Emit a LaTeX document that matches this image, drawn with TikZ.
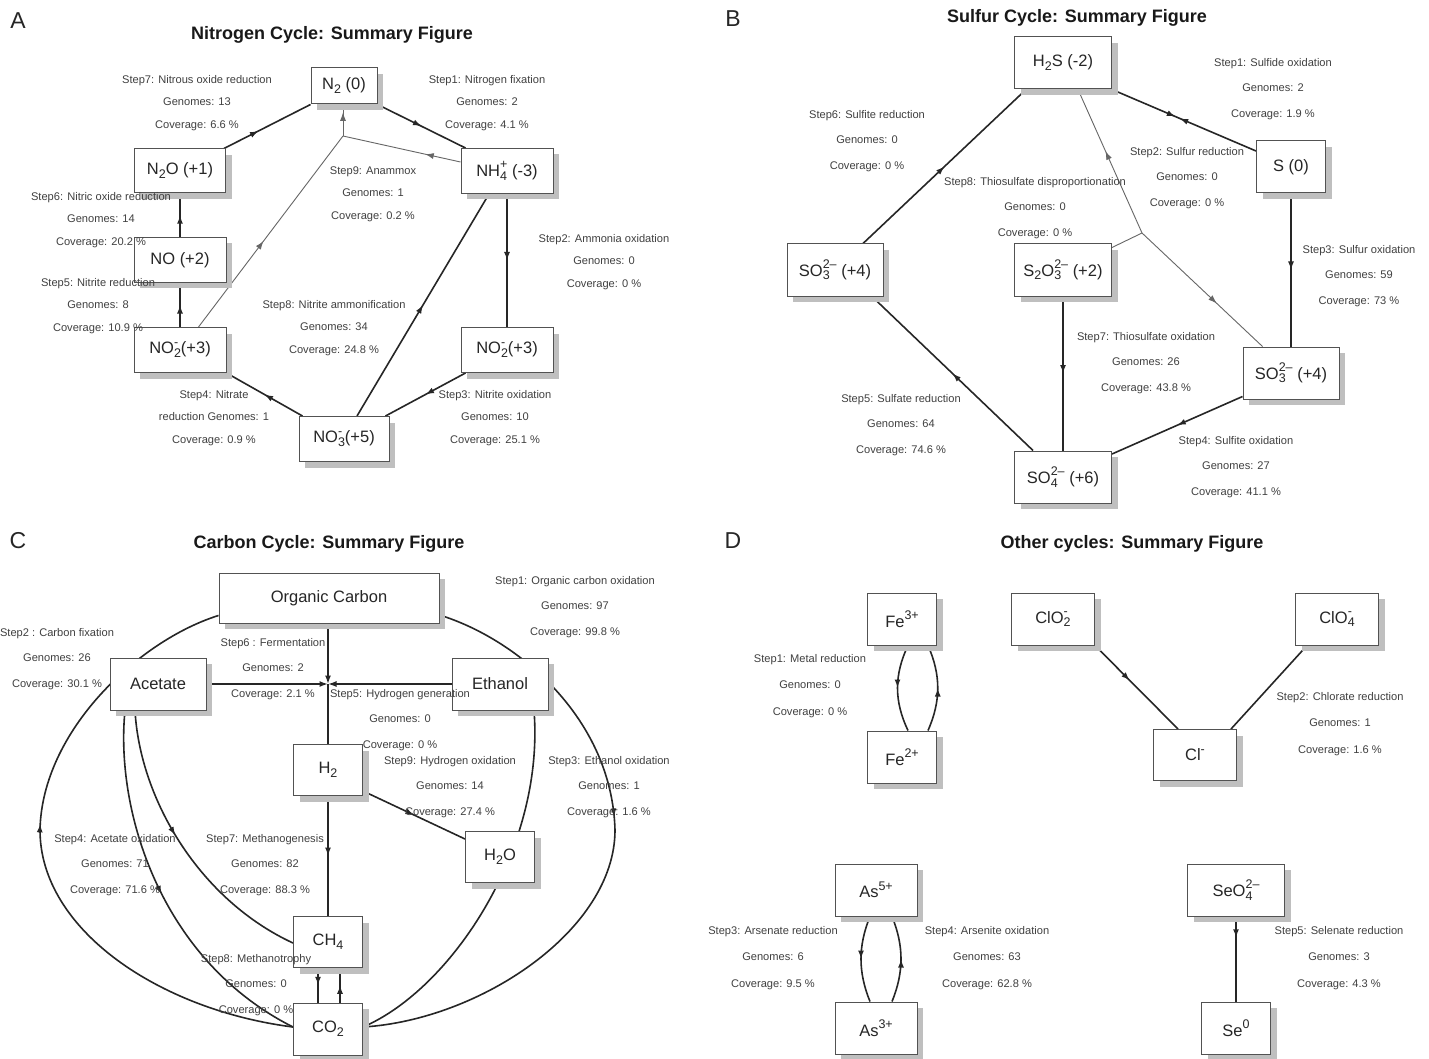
\documentclass[tikz,border=0pt]{standalone}
\usepackage{fontspec}
\setmainfont{Liberation Sans}
\usetikzlibrary{arrows.meta,decorations.markings,shadows,calc}
\pgfdeclarelayer{bg}
\pgfsetlayers{bg,main}
\newcommand\sbx[1]{\raisebox{-0.24em}{\fontsize{12.5}{13}\selectfont #1}}
\newcommand\spx[1]{\raisebox{0.45em}{\fontsize{12.5}{13}\selectfont #1}}
\newcommand\chemion[2]{\mbox{\setbox0=\hbox{\sbx{#1}}\setbox2=\hbox{\spx{#2}}\ifdim\wd0>\wd2 \rlap{\box2}\box0\else\rlap{\box0}\box2\fi}}
\tikzset{
  box/.style={draw=black!68, line width=1pt, fill=white, inner sep=0pt,
    font=\fontsize{16.5}{18}\selectfont, text=black!85,
    drop shadow={shadow xshift=6pt, shadow yshift=-6pt, fill=black!25, opacity=1}},
  lbl/.style={align=center, inner sep=0pt, text=black!75, font=\fontsize{11.1}{25.7}\selectfont},
  lblA/.style={lbl, font=\fontsize{11.1}{22.5}\selectfont},
  lblD/.style={lbl, font=\fontsize{11.1}{26.7}\selectfont},
  ttl/.style={font=\fontsize{18}{20}\selectfont\bfseries, text=black!90},
  letter/.style={font=\fontsize{23}{25}\selectfont, text=black!85},
  ln/.style={line width=1.6pt, draw=black!85},
  thinln/.style={line width=0.9pt, draw=black!60},
  mytip/.tip={Latex[length=8.5pt,width=6pt]},
  marr/.style={postaction={decorate, decoration={markings, mark=at position #1 with {\arrow{mytip}}}}},
  marr/.default=0.5,
  rarr/.style={postaction={decorate, decoration={markings, mark=at position #1 with {\arrowreversed{mytip}}}}},
  rarr/.default=0.5,
}
\begin{document}
\begin{tikzpicture}[x=1pt,y=-1pt]
\useasboundingbox (0,0) rectangle (1429,1059);
\begin{pgfonlayer}{bg}
\fill[white] (0,0) rectangle (1429,1059);
\end{pgfonlayer}

% ================= Panel A =================
\node[letter] (letA) at (18,21) {A};
\node[ttl] (ttlA) at (332,35) {Nitrogen Cycle: Summary Figure};
\node[box, minimum width=66pt, minimum height=36pt] (n2) at (344,86) {N\sbx{2} (0)};
\node[box, minimum width=92pt, minimum height=45pt] (nh4) at (507,171) {NH\chemion{4}{+} (-3)};
\node[box, minimum width=91pt, minimum height=44pt] (n2o) at (180,171) {N\sbx{2}O (+1)};
\node[box, minimum width=92pt, minimum height=45pt] (no) at (180,260) {NO (+2)};
\node[box, minimum width=92pt, minimum height=45pt] (no2a) at (180,350) {NO\chemion{2}{-}(+3)};
\node[box, minimum width=92pt, minimum height=45pt] (no2b) at (507,350) {NO\chemion{2}{-}(+3)};
\node[box, minimum width=90pt, minimum height=45pt] (no3) at (344,439) {NO\chemion{3}{-}(+5)};
\coordinate (j1) at (343,136);
\begin{pgfonlayer}{bg}
\draw[ln, marr=0.4] ($(n2o.north east)+(-2,0)$) -- (n2.south west);
\draw[ln, marr] (n2.south east) -- ($(nh4.north west)+(5,0)$);
\draw[ln, marr] (no.north) -- (n2o.south);
\draw[ln, marr] (no2a.north) -- (no.south);
\draw[ln, marr] ($(no3.north west)+(4,0)$) -- (no2a.south east);
\draw[ln, marr] (nh4.south) -- (no2b.north);
\draw[ln, marr] ($(no2b.south west)+(5,0)$) -- ($(no3.north east)+(-4,0)$);
\draw[ln, marr] ($(no3.north)+(13,0)$) -- ($(nh4.south)+(-18,0)$);
\draw[thinln, marr=0.3] ($(nh4.west)+(0,-9)$) -- (j1);
\draw[thinln, marr=0.75] (j1) -- (j1 |- n2.south);
\draw[thinln, marr=0.45] ($(no2a.north east)+(-28,0)$) -- (j1);
\end{pgfonlayer}
\node[lblA] (a7) at (197,103) {Step7: Nitrous oxide reduction\\Genomes: 13\\Coverage: 6.6 \%};
\node[lblA] (a1) at (487,103) {Step1: Nitrogen fixation\\Genomes: 2\\Coverage: 4.1 \%};
\node[lblA] (a9) at (373,194) {Step9: Anammox\\Genomes: 1\\Coverage: 0.2 \%};
\node[lblA] (a6) at (101,220) {Step6: Nitric oxide reduction\\Genomes: 14\\Coverage: 20.2 \%};
\node[lblA] (a2) at (604,262) {Step2: Ammonia oxidation\\Genomes: 0\\Coverage: 0 \%};
\node[lblA] (a5) at (98,306) {Step5: Nitrite reduction\\Genomes: 8\\Coverage: 10.9 \%};
\node[lblA] (a8) at (334,328) {Step8: Nitrite ammonification\\Genomes: 34\\Coverage: 24.8 \%};
\node[lblA] (a4) at (214,418) {Step4: Nitrate\\reduction Genomes: 1\\Coverage: 0.9 \%};
\node[lblA] (a3) at (495,418) {Step3: Nitrite oxidation\\Genomes: 10\\Coverage: 25.1 \%};

% ================= Panel B =================
\node[letter] (letB) at (733,19) {B};
\node[ttl] (ttlB) at (1077,18) {Sulfur Cycle: Summary Figure};
\node[box, minimum width=97pt, minimum height=52pt] (h2s) at (1063,63) {H\sbx{2}S (-2)};
\node[box, minimum width=69pt, minimum height=52pt] (s0) at (1291,167) {S (0)};
\node[box, minimum width=96pt, minimum height=52pt] (so3a) at (835,270) {SO\chemion{3}{2–} (+4)};
\node[box, minimum width=97pt, minimum height=52pt] (s2o3) at (1063,270) {S\sbx{2}O\chemion{3}{2–} (+2)};
\node[box, minimum width=96pt, minimum height=52pt] (so3b) at (1291,373) {SO\chemion{3}{2–} (+4)};
\node[box, minimum width=97pt, minimum height=52pt] (so4) at (1063,477) {SO\chemion{4}{2–} (+6)};
\coordinate (j2) at (1142,233);
\begin{pgfonlayer}{bg}
\draw[ln, marr] ($(so3a.north)+(28,0)$) -- ($(h2s.south west)+(12,0)$);
\draw[ln, marr=0.44, rarr=0.47] (h2s.south east) -- ($(s0.west)+(0,-16)$);
\draw[thinln] ($(s2o3.north east)+(0,4)$) -- (j2);
\draw[thinln, marr=0.57] (j2) -- ($(h2s.south)+(15,0)$);
\draw[thinln, marr=0.62] (j2) -- ($(so3b.north west)+(20,0)$);
\draw[ln, marr] (s0.south) -- (so3b.north);
\draw[ln, marr] (s2o3.south) -- (so4.north);
\draw[ln, marr] ($(so4.north west)+(19,0)$) -- ($(so3a.south)+(37,0)$);
\draw[ln, marr] ($(so3b.south west)+(0,-3)$) -- ($(so4.east)+(0,-23)$);
\end{pgfonlayer}
\node[lbl] (b1) at (1273,89) {Step1: Sulfide oxidation\\Genomes: 2\\Coverage: 1.9 \%};
\node[lbl] (b6) at (867,141) {Step6: Sulfite reduction\\Genomes: 0\\Coverage: 0 \%};
\node[lbl] (b2) at (1187,178) {Step2: Sulfur reduction\\Genomes: 0\\Coverage: 0 \%};
\node[lbl] (b8) at (1035,208) {Step8: Thiosulfate disproportionation\\Genomes: 0\\Coverage: 0 \%};
\node[lbl] (b3) at (1359,276) {Step3: Sulfur oxidation\\Genomes: 59\\Coverage: 73 \%};
\node[lbl] (b7) at (1146,363) {Step7: Thiosulfate oxidation\\Genomes: 26\\Coverage: 43.8 \%};
\node[lbl] (b5) at (901,425) {Step5: Sulfate reduction\\Genomes: 64\\Coverage: 74.6 \%};
\node[lbl] (b4) at (1236,467) {Step4: Sulfite oxidation\\Genomes: 27\\Coverage: 41.1 \%};

% ================= Panel C =================
\node[letter] (letC) at (18,541) {C};
\node[ttl] (ttlC) at (329,544) {Carbon Cycle: Summary Figure};
\node[box, minimum width=220pt, minimum height=50pt] (oc) at (329,598) {Organic Carbon};
\node[box, minimum width=96pt, minimum height=52pt] (acet) at (158,684) {Acetate};
\node[box, minimum width=96pt, minimum height=52pt] (eth) at (500,684) {Ethanol};
\node[box, minimum width=69pt, minimum height=51pt] (h2) at (328,770) {H\sbx{2}};
\node[box, minimum width=69pt, minimum height=51pt] (h2o) at (500,857) {H\sbx{2}O};
\node[box, minimum width=69pt, minimum height=51pt] (ch4) at (328,942) {CH\sbx{4}};
\node[box, minimum width=69pt, minimum height=52pt] (co2) at (328,1029) {CO\sbx{2}};
\coordinate (j3) at (328,684);
\begin{pgfonlayer}{bg}
\draw[ln, -{mytip}] (j3 |- oc.south) -- (j3);
\draw[ln, -{mytip}] (acet.east) -- (j3);
\draw[ln, -{mytip}] (eth.west) -- (j3);
\draw[ln] (j3) -- (h2.north);
\draw[ln, marr] (h2.south) -- (ch4.north);
\draw[ln, marr] ($(h2.east)+(0,21)$) -- ($(h2o.west)+(0,-18)$);
\draw[ln, marr] ($(ch4.south)+(-10,0)$) -- ($(co2.north)+(-10,0)$);
\draw[ln, rarr] ($(ch4.south)+(12,0)$) -- ($(co2.north)+(12,0)$);
\draw[ln, marr=0.55] ($(co2.west)+(0,-2)$) .. controls (160,1010) and (40,930) .. (40,830)
   .. controls (42,730) and (140,640) .. ($(oc.south west)+(0,-8)$);
\draw[ln, marr=0.44] ($(oc.east)+(0,17)$) .. controls (520,640) and (612,720) .. (615,830)
   .. controls (615,930) and (480,1020) .. ($(co2.east)+(0,-2)$);
\draw[ln] ($(eth.south)+(34,0)$) .. controls (545,850) and (450,990) .. ($(co2.east)+(0,-2)$);
\draw[ln, marr] ($(acet.south)+(-33,0)$) .. controls (115,810) and (160,960) .. ($(co2.west)+(0,-2)$);
\draw[ln, marr=0.45] ($(acet.south)+(-23,0)$) .. controls (140,800) and (200,900) .. ($(ch4.west)+(0,1)$);
\end{pgfonlayer}
\node[lbl] (c2) at (57,659) {Step2 : Carbon fixation\\Genomes: 26\\Coverage: 30.1 \%};
\node[lbl] (c6) at (273,669) {Step6 : Fermentation\\Genomes: 2\\Coverage: 2.1 \%};
\node[lbl] (c1) at (575,607) {Step1: Organic carbon oxidation\\Genomes: 97\\Coverage: 99.8 \%};
\node[lbl] (c5) at (400,720) {Step5: Hydrogen generation\\Genomes: 0\\Coverage: 0 \%};
\node[lbl] (c9) at (450,787) {Step9: Hydrogen oxidation\\Genomes: 14\\Coverage: 27.4 \%};
\node[lbl] (c3) at (609,787) {Step3: Ethanol oxidation\\Genomes: 1\\Coverage: 1.6 \%};
\node[lbl] (c4) at (115,865) {Step4: Acetate oxidation\\Genomes: 71\\Coverage: 71.6 \%};
\node[lbl] (c7) at (265,865) {Step7: Methanogenesis\\Genomes: 82\\Coverage: 88.3 \%};
\node[lbl] (c8) at (256,985) {Step8: Methanotrophy\\Genomes: 0\\Coverage: 0 \%};

% ================= Panel D =================
\node[letter] (letD) at (733,541) {D};
\node[ttl] (ttlD) at (1132,544) {Other cycles: Summary Figure};
\node[box, minimum width=69pt, minimum height=52pt] (fe3) at (902,619) {Fe\spx{3+}};
\node[box, minimum width=69pt, minimum height=52pt] (fe2) at (902,757) {Fe\spx{2+}};
\node[box, minimum width=83pt, minimum height=52pt] (clo2) at (1053,619) {ClO\chemion{2}{-}};
\node[box, minimum width=83pt, minimum height=52pt] (clo4) at (1337,619) {ClO\chemion{4}{-}};
\node[box, minimum width=83pt, minimum height=51pt] (cl) at (1195,755) {Cl\spx{-}};
\node[box, minimum width=82pt, minimum height=52pt] (as5) at (876,890) {As\spx{5+}};
\node[box, minimum width=82pt, minimum height=52pt] (as3) at (876,1028) {As\spx{3+}};
\node[box, minimum width=97pt, minimum height=52pt] (seo4) at (1236,890) {SeO\chemion{4}{2–}};
\node[box, minimum width=69pt, minimum height=52pt] (se0) at (1236,1028) {Se\spx{0}};
\begin{pgfonlayer}{bg}
\draw[ln, marr] ($(fe3.south)+(6,0)$) .. controls (894,675) and (894,701) .. ($(fe2.north)+(6,0)$);
\draw[ln, marr] ($(fe2.north)+(26,0)$) .. controls (941,701) and (941,675) .. ($(fe3.south)+(26,0)$);
\draw[ln, marr=0.42] (clo2.south east) -- ($(cl.north west)+(25,0)$);
\draw[ln] ($(clo4.south west)+(12,0)$) -- ($(cl.north east)+(-6,0)$);
\draw[ln, marr] ($(as5.south)+(-6,0)$) .. controls (858,946) and (858,972) .. ($(as3.north)+(-6,0)$);
\draw[ln, marr] ($(as3.north)+(16,0)$) .. controls (904,972) and (904,946) .. ($(as5.south)+(16,0)$);
\draw[ln, marr=0.25] (seo4.south) -- (se0.north);
\end{pgfonlayer}
\node[lblD] (d1) at (810,686) {Step1: Metal reduction\\Genomes: 0\\Coverage: 0 \%};
\node[lblD] (d2) at (1340,724) {Step2: Chlorate reduction\\Genomes: 1\\Coverage: 1.6 \%};
\node[lblD] (d3) at (773,958) {Step3: Arsenate reduction\\Genomes: 6\\Coverage: 9.5 \%};
\node[lblD] (d4) at (987,958) {Step4: Arsenite oxidation\\Genomes: 63\\Coverage: 62.8 \%};
\node[lblD] (d5) at (1339,958) {Step5: Selenate reduction\\Genomes: 3\\Coverage: 4.3 \%};
\end{tikzpicture}
\end{document}
